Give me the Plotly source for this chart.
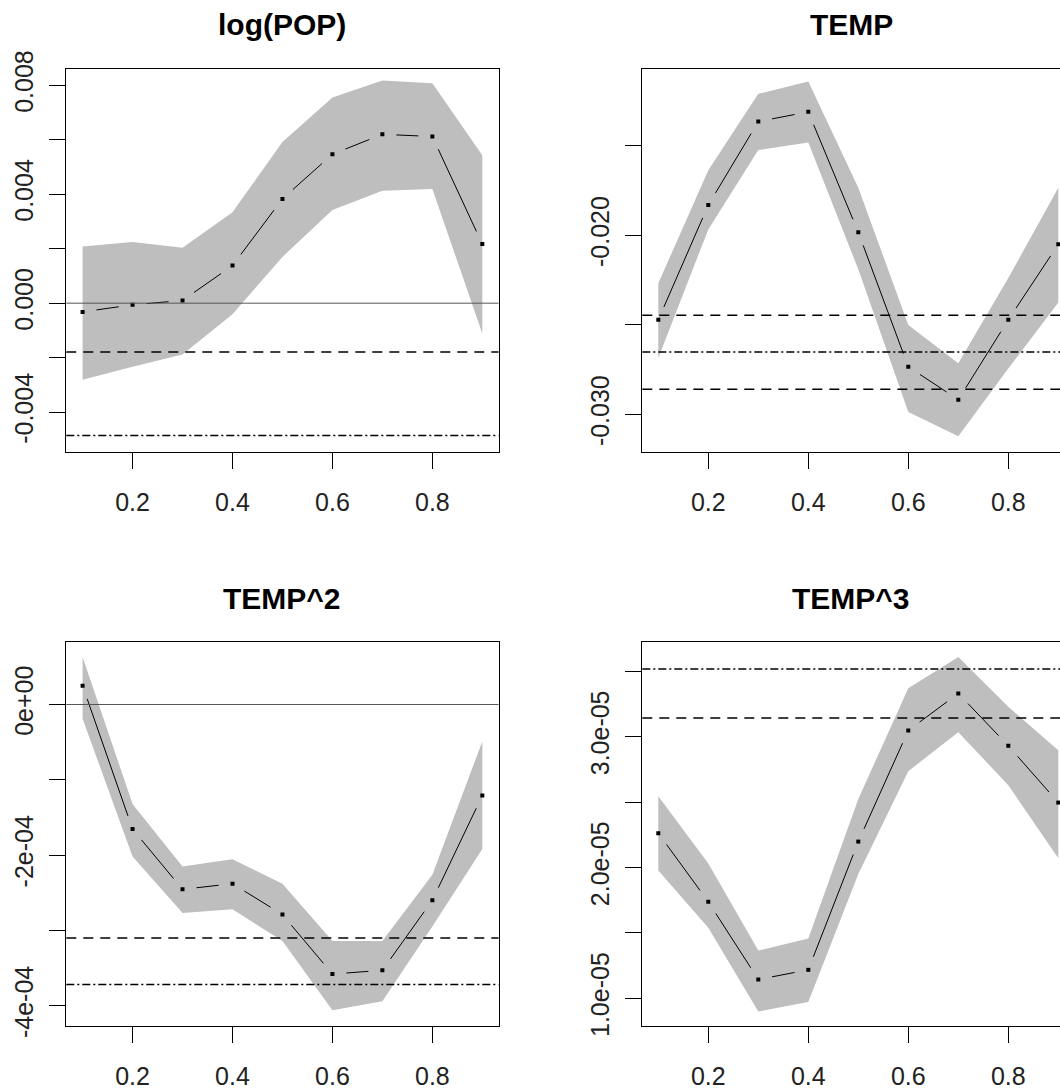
import math
import plotly.graph_objects as go

W, H = 1060, 1091
BAND = "#bebebe"
FONT = "Liberation Sans, Arial, sans-serif"

TAU = [0.1, 0.2, 0.3, 0.4, 0.5, 0.6, 0.7, 0.8, 0.9]

# log(POP)
LOGPOP_EST = [-0.00032, -0.00006, 0.00010, 0.00138, 0.00383, 0.00547, 0.00620, 0.00612, 0.00217]
LOGPOP_HI = [0.00208, 0.00225, 0.00204, 0.00334, 0.00592, 0.00755, 0.00818, 0.00808, 0.00543]
LOGPOP_LO = [-0.00281, -0.00233, -0.00188, -0.00041, 0.00170, 0.00342, 0.00413, 0.00419, -0.00111]
LOGPOP_OLS = -0.00486
LOGPOP_OLS_CI = [-0.00179]

# TEMP
TEMP_EST = [-0.02472, -0.01831, -0.01365, -0.01311, -0.01983, -0.02734, -0.02918, -0.02472, -0.02050]
TEMP_HI = [-0.02268, -0.01637, -0.01210, -0.01142, -0.01734, -0.02501, -0.02715, -0.02239, -0.01734]
TEMP_LO = [-0.02685, -0.01967, -0.01524, -0.01482, -0.02190, -0.02986, -0.03122, -0.02744, -0.02375]
TEMP_OLS = -0.02652
TEMP_OLS_CI = [-0.02447, -0.02860]

# TEMP^2
TEMP2_EST = [0.25e-4, -1.655e-4, -2.455e-4, -2.38e-4, -2.79e-4, -3.58e-4, -3.53e-4, -2.60e-4, -1.21e-4]
TEMP2_HI = [0.63e-4, -1.32e-4, -2.15e-4, -2.055e-4, -2.38e-4, -3.14e-4, -3.14e-4, -2.26e-4, -0.49e-4]
TEMP2_LO = [-0.19e-4, -2.02e-4, -2.77e-4, -2.72e-4, -3.14e-4, -4.06e-4, -3.94e-4, -2.95e-4, -1.92e-4]
TEMP2_OLS = -3.72e-4
TEMP2_OLS_CI = [-3.10e-4]

# TEMP^3
TEMP3_EST = [2.262e-5, 1.738e-5, 1.144e-5, 1.218e-5, 2.198e-5, 3.047e-5, 3.330e-5, 2.930e-5, 2.496e-5]
TEMP3_HI = [2.544e-5, 2.030e-5, 1.365e-5, 1.458e-5, 2.523e-5, 3.370e-5, 3.609e-5, 3.228e-5, 2.896e-5]
TEMP3_LO = [1.977e-5, 1.539e-5, 0.899e-5, 0.973e-5, 1.950e-5, 2.736e-5, 3.034e-5, 2.629e-5, 2.070e-5]
TEMP3_OLS = 3.516e-5
TEMP3_OLS_CI = [3.143e-5]

X_TICKS = [0.2, 0.4, 0.6, 0.8]
X_TICKTEXT = ["0.2", "0.4", "0.6", "0.8"]

# pixel boxes of the four panels (left, right, top, bottom)
BOX_L = (66.3, 498.6)
BOX_R = (642.3, 1060.0)
ROW_T = (68.7, 451.5)
ROW_B = (642.0, 1025.7)

panels = [
    dict(title="log(POP)", est=LOGPOP_EST, lo=LOGPOP_LO, hi=LOGPOP_HI,
         ols=LOGPOP_OLS, ci=LOGPOP_OLS_CI, cols=BOX_L, rows=ROW_T, right=False,
         xr=[0.0674, 0.9326], yr=[-0.005446, 0.00861],
         yt=[-0.004, -0.002, 0.0, 0.002, 0.004, 0.006, 0.008],
         ytt=["-0.004", "", "0.000", "", "0.004", "", "0.008"]),
    dict(title="TEMP", est=TEMP_EST, lo=TEMP_LO, hi=TEMP_HI,
         ols=TEMP_OLS, ci=TEMP_OLS_CI, cols=BOX_R, rows=ROW_T, right=True,
         xr=[0.068, 0.9034], yr=[-0.03207, -0.0107],
         yt=[-0.030, -0.025, -0.020, -0.015],
         ytt=["-0.030", "", "-0.020", ""]),
    dict(title="TEMP^2", est=TEMP2_EST, lo=TEMP2_LO, hi=TEMP2_HI,
         ols=TEMP2_OLS, ci=TEMP2_OLS_CI, cols=BOX_L, rows=ROW_B, right=False,
         xr=[0.0674, 0.9326], yr=[-4.266e-4, 0.83e-4],
         yt=[-4e-4, -3e-4, -2e-4, -1e-4, 0.0],
         ytt=["-4e-04", "", "-2e-04", "", "0e+00"]),
    dict(title="TEMP^3", est=TEMP3_EST, lo=TEMP3_LO, hi=TEMP3_HI,
         ols=TEMP3_OLS, ci=TEMP3_OLS_CI, cols=BOX_R, rows=ROW_B, right=True,
         xr=[0.068, 0.9034], yr=[0.791e-5, 3.723e-5],
         yt=[1.0e-5, 1.5e-5, 2.0e-5, 2.5e-5, 3.0e-5, 3.5e-5],
         ytt=["1.0e-05", "", "2.0e-05", "", "3.0e-05", ""]),
]


def gapped(xs, ys, sx, sy, r=14):
    """Segments between points, cut back r pixels at each end (R type='b')."""
    gx, gy = [], []
    for i in range(len(xs) - 1):
        dx, dy = xs[i + 1] - xs[i], ys[i + 1] - ys[i]
        d = math.hypot(dx * sx, dy * sy)
        if d <= 2 * r:
            continue
        f = r / d
        gx += [xs[i] + dx * f, xs[i + 1] - dx * f, None]
        gy += [ys[i] + dy * f, ys[i + 1] - dy * f, None]
    return gx, gy


fig = go.Figure()
shapes, annotations = [], []
tickfont = dict(family=FONT, size=25, color="#222222")

for i, p in enumerate(panels, start=1):
    suffix = "" if i == 1 else str(i)
    xa, ya = "x" + suffix, "y" + suffix
    (l, r), (t, b) = p["cols"], p["rows"]
    sx = (r - l) / (p["xr"][1] - p["xr"][0])
    sy = (b - t) / (p["yr"][1] - p["yr"][0])

    # confidence band
    fig.add_trace(go.Scatter(x=TAU + TAU[::-1], y=p["hi"] + p["lo"][::-1],
                             fill="toself", fillcolor=BAND, mode="none",
                             xaxis=xa, yaxis=ya, hoverinfo="skip"))
    gx, gy = gapped(TAU, p["est"], sx, sy)
    fig.add_trace(go.Scatter(x=gx, y=gy, mode="lines",
                             line=dict(color="black", width=1),
                             xaxis=xa, yaxis=ya, hoverinfo="skip"))
    fig.add_trace(go.Scatter(x=TAU, y=p["est"], mode="markers",
                             marker=dict(symbol="square", size=4, color="black"),
                             xaxis=xa, yaxis=ya))

    xref_dom = xa + " domain"
    if p["yr"][0] < 0 < p["yr"][1]:
        shapes.append(dict(type="line", xref=xref_dom, yref=ya, x0=0, x1=1,
                           y0=0, y1=0, layer="above",
                           line=dict(color="#555555", width=1)))
    shapes.append(dict(type="line", xref=xref_dom, yref=ya, x0=0, x1=1,
                       y0=p["ols"], y1=p["ols"], layer="above",
                       line=dict(color="black", width=1.5, dash="8px,3px,2px,3px")))
    for c in p["ci"]:
        shapes.append(dict(type="line", xref=xref_dom, yref=ya, x0=0, x1=1,
                           y0=c, y1=c, layer="above",
                           line=dict(color="black", width=1.5, dash="10px,7px")))

    fig.layout["xaxis" + suffix] = dict(
        domain=[l / W, r / W], range=p["xr"], anchor=ya, automargin=False,
        tickvals=X_TICKS, ticktext=X_TICKTEXT, ticks="outside", ticklen=16,
        tickwidth=1, tickcolor="black", showline=True, linecolor="black",
        linewidth=1.3, mirror=True, showgrid=False, zeroline=False,
        tickfont=tickfont, ticklabelstandoff=12)
    fig.layout["yaxis" + suffix] = dict(
        domain=[1 - b / H, 1 - t / H], range=p["yr"], anchor=xa, automargin=False,
        tickvals=p["yt"], ticktext=p["ytt"], ticks="outside", ticklen=16,
        tickwidth=1, tickcolor="black", showline=True, linecolor="black",
        linewidth=1.3, mirror=not p["right"], showgrid=False, zeroline=False,
        tickangle=-90, tickfont=tickfont, ticklabelstandoff=6)

    cx = (l + (l + (p["xr"][1] - p["xr"][0]) * sx)) / 2
    cy = t - 44
    annotations.append(dict(text=p["title"], x=cx / W, y=1 - cy / H,
                            xref="paper", yref="paper", showarrow=False,
                            xanchor="center", yanchor="middle",
                            font=dict(family=FONT, size=30, color="black",
                                      weight="bold")))

fig.update_layout(width=W, height=H, margin=dict(l=0, r=0, t=0, b=0, pad=0),
                  showlegend=False, plot_bgcolor="white", paper_bgcolor="white",
                  shapes=shapes, annotations=annotations)

fig.write_html("out.html", config={"displayModeBar": False},
               post_script="document.body.style.margin='0';"
                           "document.body.style.overflow='hidden';")
